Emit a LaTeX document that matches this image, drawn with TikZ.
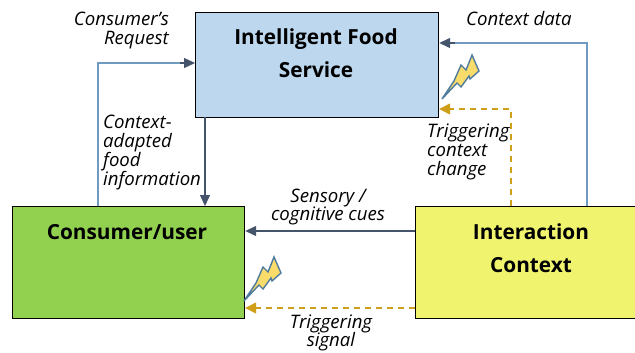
\documentclass[tikz,border=0pt]{standalone}
\usepackage{fontspec}
\setmainfont{Open Sans}
\usetikzlibrary{arrows.meta}
\definecolor{bluebox}{HTML}{BDD7EE}
\definecolor{greenbox}{HTML}{92D050}
\definecolor{yellowbox}{HTML}{F0F36E}
\definecolor{conn}{HTML}{44546A}
\definecolor{lightconn}{HTML}{6F9BC0}
\definecolor{dashc}{HTML}{CF9F1A}
\definecolor{boltY}{HTML}{F9DC6A}
\definecolor{boltB}{HTML}{4F7C9E}
\begin{document}
\begin{tikzpicture}[x=1pt,y=-1pt,
 box/.style={draw=black,line width=1.2pt,minimum width=#1,inner sep=0pt},
 title/.style={font=\fontsize{20.8}{33}\selectfont\bfseries,align=center,text=black},
 lab/.style={font=\fontsize{18.6}{18.8}\selectfont\itshape,text=black,inner sep=0pt},
 arr/.style={draw=conn,line width=1.3pt,-{Triangle[length=11pt,width=10pt]}},
 arrl/.style={draw=lightconn,line width=1.3pt},
 dashline/.style={draw=dashc,line width=1.3pt,dash pattern=on 6pt off 5pt,-{Triangle[length=11pt,width=11pt,fill=dashc]}},
 bolt/.style={fill=boltY,draw=boltB,line width=1.4pt,line join=miter},
 ]
\useasboundingbox (0,0) rectangle (635,353);
\fill[white] (0,0) rectangle (635,353);
\node[box=243pt,minimum height=105pt,fill=bluebox,anchor=north west] (svc) at (195,12) {};
\node[title] (svct) at (316,53) {Intelligent Food\\Service};
\node[box=232pt,minimum height=112pt,fill=greenbox,anchor=north west] (usr) at (12,206) {};
\node[title,anchor=center] (usrt) at (127,232) {Consumer/user};
\node[box=220pt,minimum height=112pt,fill=yellowbox,anchor=north west] (ctx) at (415,206) {};
\node[title] (ctxt) at (531,248) {Interaction\\Context};
\node[lab,align=right,anchor=north east] (l1) at (169,12) {Consumer’s\\Request};
\node[lab,anchor=north west] (l2) at (466,11) {Context data};
\node[lab,align=left,anchor=north west] (l3) at (103,115) {Context-\\adapted\\food\\information};
\node[lab,align=left,anchor=north west] (l4) at (427,124) {Triggering\\context\\change};
\node[lab,align=center] (l5) at (328,207) {Sensory /\\cognitive cues};
\node[lab,align=center] (l6) at (331,333) {Triggering\\signal};
\draw[arrl] (98,206) -- (98,63) -- (180,63);
\draw[arr] (180,63) -- (svc.west |- 0,63);
\draw[arr] (205,117) -- (205,206);
\draw[arr] (ctx.west |- 0,231) -- (usr.east |- 0,231);
\draw[arrl] (587,206) -- (587,43) -- (455,43);
\draw[arr] (455,43) -- (svc.east |- 0,43);
\draw[dashline] (511,206) -- (511,109) -- (svc.east |- 0,109);
\draw[dashline] (ctx.west |- 0,308) -- (usr.east |- 0,308);
\foreach \x/\y in {442/99,244/301}{
 \begin{scope}[shift={(\x,\y)}]
 \path[bolt] (0,0) -- (12,-18) -- (19,-34) -- (24,-29) -- (30,-44) -- (37,-28) -- (28,-20) -- (27,-23) -- (19,-12) -- (15,-16) -- cycle;
 \end{scope}}
\end{tikzpicture}
\end{document}
